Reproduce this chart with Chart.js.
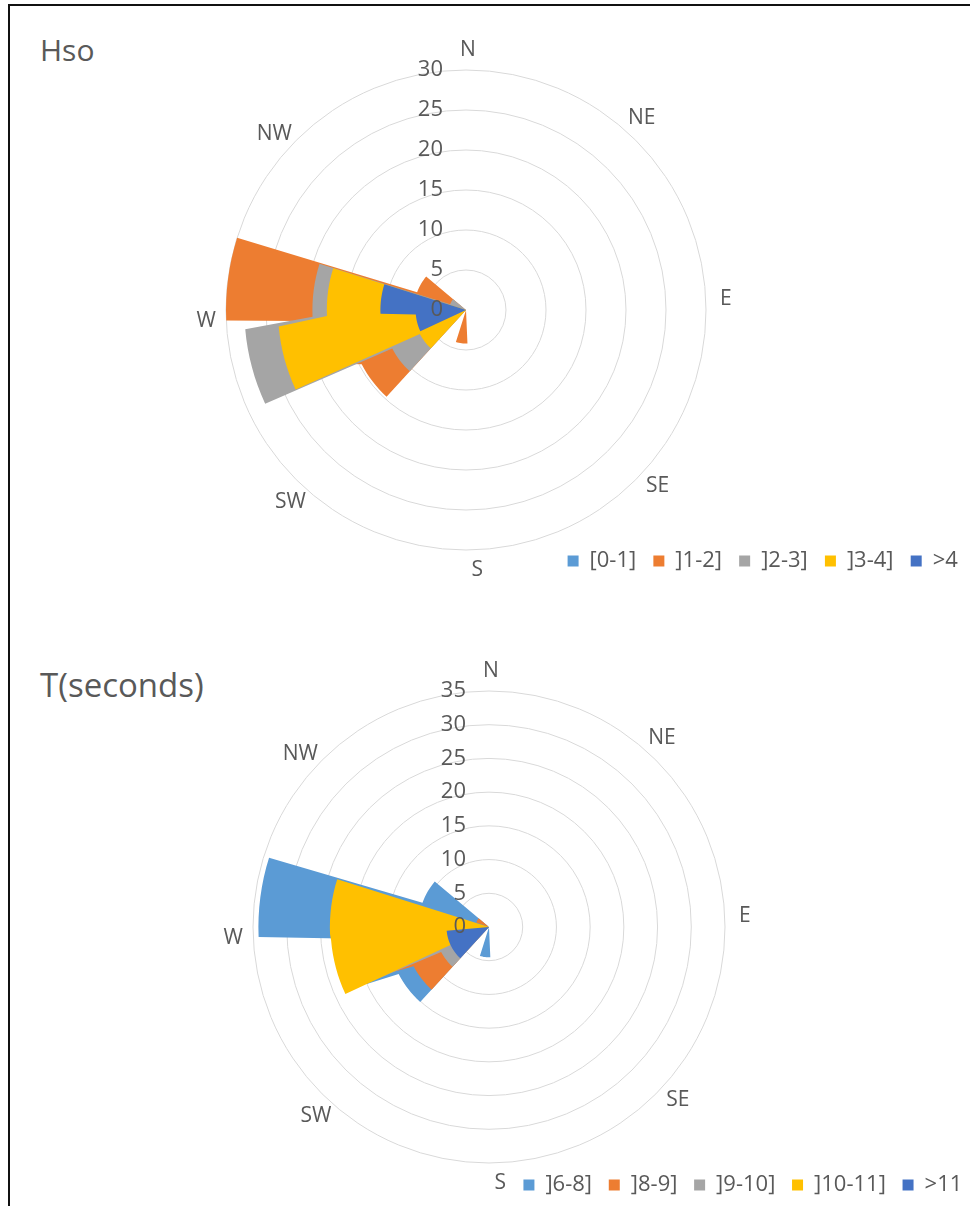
<!DOCTYPE html>
<html>
<head>
<meta charset="utf-8">
<script src="https://cdn.jsdelivr.net/npm/chart.js@4.4.1/dist/chart.umd.min.js"></script>
<style>
  html, body { margin: 0; padding: 0; background: #fff; }
  body { position: relative; width: 970px; height: 1206px; overflow: hidden; font-family: "Open Sans", sans-serif; }
  .frame { position: absolute; left: 8px; top: 4px; width: 1000px; height: 1300px; border: 2px solid #111; box-sizing: border-box; }
  .title { position: absolute; left: 40px; color: #595959; }
  canvas { position: absolute; }
</style>
</head>
<body>
<div class="frame"></div>
<div class="title" style="top:35px; font-size:30px; line-height:30px">Hso</div>
<div class="title" style="top:668px; font-size:33px; line-height:33px">T(seconds)</div>
<canvas id="hsoChart" width="1018" height="600" style="left:-43px; top:0px"></canvas>
<canvas id="periodChart" width="980" height="606" style="left:-1px; top:600px"></canvas>
<script>
// 16 direction sectors, each one is 9 rows of 2.5 deg in the sheet (20 deg filled + gap)
const directions = ['N', 'NNE', 'NE', 'ENE', 'E', 'ESE', 'SE', 'SSE', 'S', 'SSW', 'SW', 'WSW', 'W', 'WNW', 'NW', 'NNW'];
const rowsPerSector = 9;

const seriesColors = ['#5B9BD5', '#ED7D31', '#A5A5A5', '#FFC000', '#4472C4'];

// Hso (%) per sector
const hsoClasses = ['[0-1]', ']1-2]', ']2-3]', ']3-4]', '>4'];
const hso0to1 = [0, 0, 0, 0, 0, 0, 0, 0, 0,   0, 0,    0,    0,    0,   0, 0];
const hso1to2 = [0, 0, 0, 0, 0, 0, 0, 0, 4.2, 0, 14.7, 16,   30,   6.5, 0, 0];
const hso2to3 = [0, 0, 0, 0, 0, 0, 0, 0, 0,   0, 10.4, 27.7, 19.2, 2.1, 0, 0];
const hso3to4 = [0, 0, 0, 0, 0, 0, 0, 0, 0,   0, 6.5,  23.5, 17.4, 0,   0, 0];
const hsoOver4 = [0, 0, 0, 0, 0, 0, 0, 0, 0,  0, 0,    6.3,  10.7, 0,   0, 0];
const hsoMax = 30;

// T (seconds) per sector
const periodClasses = [']6-8]', ']8-9]', ']9-10]', ']10-11]', '>11'];
const t6to8 = [0, 0, 0, 0, 0, 0, 0, 0, 4.5, 0, 15.1, 20,   34.2, 10.5, 0, 0];
const t8to9 = [0, 0, 0, 0, 0, 0, 0, 0, 0,   0, 12.6, 16,   0,    2,    0, 0];
const t9to10 = [0, 0, 0, 0, 0, 0, 0, 0, 0,  0, 8,    18,   0,    0,    0, 0];
const t10to11 = [0, 0, 0, 0, 0, 0, 0, 0, 0, 0, 0,    23.5, 23.6, 0,    0, 0];
const tOver11 = [0, 0, 0, 0, 0, 0, 0, 0, 0, 0, 6.3,  6.3,  0,    0,    0, 0];
const periodMax = 35;

// only N, NE, E ... are written on the chart
const rowLabels = directions.flatMap((d, k) =>
  Array.from({length: rowsPerSector}, (_, j) => (j === 0 && k % 2 === 0) ? d : ''));
const expand = vals => vals.flatMap(v => Array(rowsPerSector).fill(v));

Chart.defaults.font.family = '"Open Sans", sans-serif';
Chart.defaults.color = '#595959';

// tick values left of the N axis + compass names
const roseText = {
  id: 'roseText',
  afterDatasetsDraw(chart) {
    const r = chart.scales.r;
    const ctx = chart.ctx;
    ctx.save();
    ctx.fillStyle = '#595959';
    ctx.font = '22px "Open Sans"';
    ctx.textAlign = 'right';
    ctx.textBaseline = 'middle';
    r.ticks.forEach(t => {
      ctx.fillText(String(t.value), r.xCenter - 23, r.yCenter - r.getDistanceFromCenterForValue(t.value));
    });
    ctx.font = '21px "Open Sans"';
    ctx.textAlign = 'center';
    chart.data.labels.forEach((lbl, i) => {
      if (!lbl) return;
      const p = r.getPointPosition(i, r.drawingArea + 20);
      let x = p.x;
      // keep the top name clear of the value labels
      if (p.y < r.yCenter - r.drawingArea) {
        x = Math.max(x, r.xCenter - 6 + ctx.measureText(lbl).width / 2);
      }
      ctx.fillText(lbl, x, p.y);
    });
    ctx.restore();
  }
};

function roseChart(id, classes, series, maxValue, legendPad, legendGap, pad) {
  return new Chart(document.getElementById(id), {
    type: 'radar',
    data: {
      labels: rowLabels,
      datasets: series.map((vals, i) => ({
        label: classes[i],
        data: expand(vals),
        backgroundColor: seriesColors[i],
        borderColor: 'rgba(0,0,0,0)',
        borderWidth: 0,
        fill: true,
        pointRadius: 0,
        pointHoverRadius: 0,
        pointHitRadius: 0,
        tension: 0,
        order: series.length - i   // later classes painted on top, like Excel
      }))
    },
    options: {
      responsive: false,
      animation: false,
      layout: { padding: pad },
      scales: {
        r: {
          min: 0,
          max: maxValue,
          startAngle: -2.5,
          ticks: { display: false, stepSize: 5 },
          grid: { circular: true, color: '#D9D9D9', lineWidth: 1 },
          angleLines: { display: false },
          pointLabels: { display: false }
        }
      },
      plugins: {
        tooltip: { enabled: false },
        legend: {
          position: 'bottom',
          align: 'end',
          labels: {
            color: '#595959',
            font: { size: 22 },
            boxWidth: 11,
            boxHeight: 11,
            padding: legendPad,
            sort: (a, b) => a.datasetIndex - b.datasetIndex,
            generateLabels: chart => Chart.defaults.plugins.legend.labels.generateLabels(chart)
              .map(item => { item.text += legendGap; return item; })
          }
        }
      }
    },
    plugins: [roseText]
  });
}

roseChart('hsoChart', hsoClasses, [hso0to1, hso1to2, hso2to3, hso3to4, hsoOver4], hsoMax,
  0, '   ', { top: 70, bottom: 18, left: 0, right: 0 });

roseChart('periodChart', periodClasses, [t6to8, t8to9, t9to10, t10to11, tOver11], periodMax,
  11, ' ', { top: 91, bottom: 0, left: 0, right: 0 });
</script>
</body>
</html>
